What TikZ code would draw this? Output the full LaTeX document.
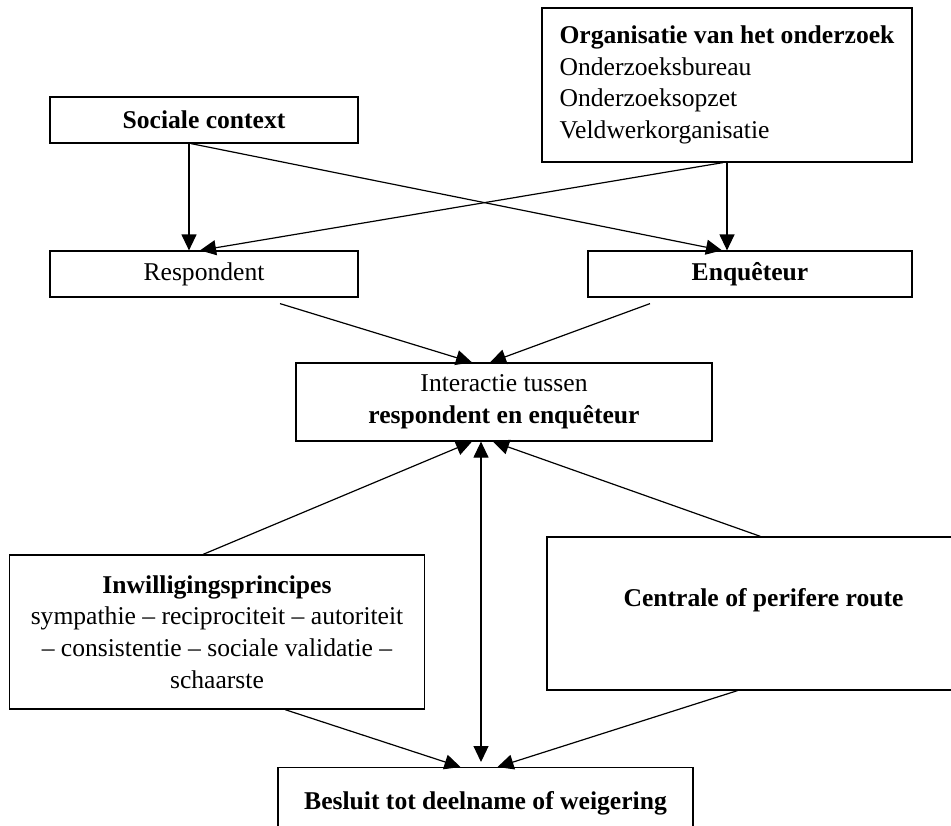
\documentclass[tikz,border=0pt]{standalone}
\usepackage{fontspec}
\setmainfont{Liberation Serif}
\usetikzlibrary{positioning,calc,arrows.meta}
\tikzset{
  blok/.style={draw,align=center,inner sep=0pt,line width=.6pt,font=\fontsize{12.8}{15.8}\selectfont},
  kop/.tip={Triangle[length=8pt,width=7.5pt]},
  pijl/.style={-kop,line width=.6pt},
}
\begin{document}
\begin{tikzpicture}[x=.5pt,y=-.5pt]
\useasboundingbox (0,0) rectangle (951,825);

% ===================== BLOKKEN ======================================
\node[blok,minimum width=154pt,minimum height=23pt] (soc) at (204,120) {\textbf{Sociale context}};
\node[blok,minimum width=185pt,minimum height=77pt,align=left] (org) at (727,85)
  {\textbf{Organisatie van het onderzoek}\\Onderzoeksbureau\\Onderzoeksopzet\\Veldwerkorganisatie};
\node[blok,minimum width=154pt,minimum height=23pt] (resp) at (204,274) {Respondent};
\node[blok,minimum width=162pt,minimum height=23pt] (enq)  at (750,274) {\textbf{Enquêteur}};
\node[blok,minimum width=208pt,minimum height=39pt] (inter) at (504,402)
  {Interactie tussen\\\textbf{respondent en enquêteur}};
\node[blok,minimum width=207.5pt,minimum height=77pt] (inw) at (217,632)
  {\textbf{Inwilligingsprincipes}\\sympathie -- reciprociteit -- autoriteit\\-- consistentie -- sociale validatie --\\schaarste};
\node[blok,minimum width=216.5pt,minimum height=76.5pt] (cen) at (763.5,613.5)
  {\textbf{Centrale of perifere route}\\ \mbox{}};
\node[blok,minimum width=207.5pt,minimum height=49pt,anchor=north] (bes) at (485.5,767)
  {\textbf{Besluit tot deelname of weigering}\\ \mbox{}};

% ===================== BOVEN ========================================
\draw[pijl] ($(soc.south)+(-15,0)$) -- ($(resp.north)+(-15,0)$);
\draw[pijl] ($(soc.south)+(-13,0)$) -- ($(enq.north)+(-28,0)$);
\draw[pijl] (org.south) -- (org.south |- enq.north);
\draw[pijl] ($(org.south)+(-4,0)$) -- ($(resp.north)+(-4,0)$);

% ===================== INTERACTIE ===================================
\draw[pijl] ($(resp.south)+(76,6)$) -- ($(inter.north)+(-32,0)$);
\draw[pijl] ($(enq.south)+(-100,6)$) -- ($(inter.north)+(-14,0)$);
\draw[pijl] ($(inw.north)+(-14,0)$) -- ($(inter.south)+(-32,0)$);
\draw[pijl] ($(cen.north)+(-3,0)$) -- ($(inter.south)+(-11,0)$);
\coordinate (mid) at ($(inter.south)+(-23,0)$);
\draw[pijl,kop-kop] (mid) -- ($(mid |- bes.north)+(0,-5)$);

% ===================== BESLUIT ======================================
\draw[pijl] ($(inw.south)+(68,0)$) -- ($(bes.north)+(-25,0)$);
\draw[pijl] ($(cen.south)+(-26,0)$) -- ($(bes.north)+(12,0)$);

\end{tikzpicture}
\end{document}
